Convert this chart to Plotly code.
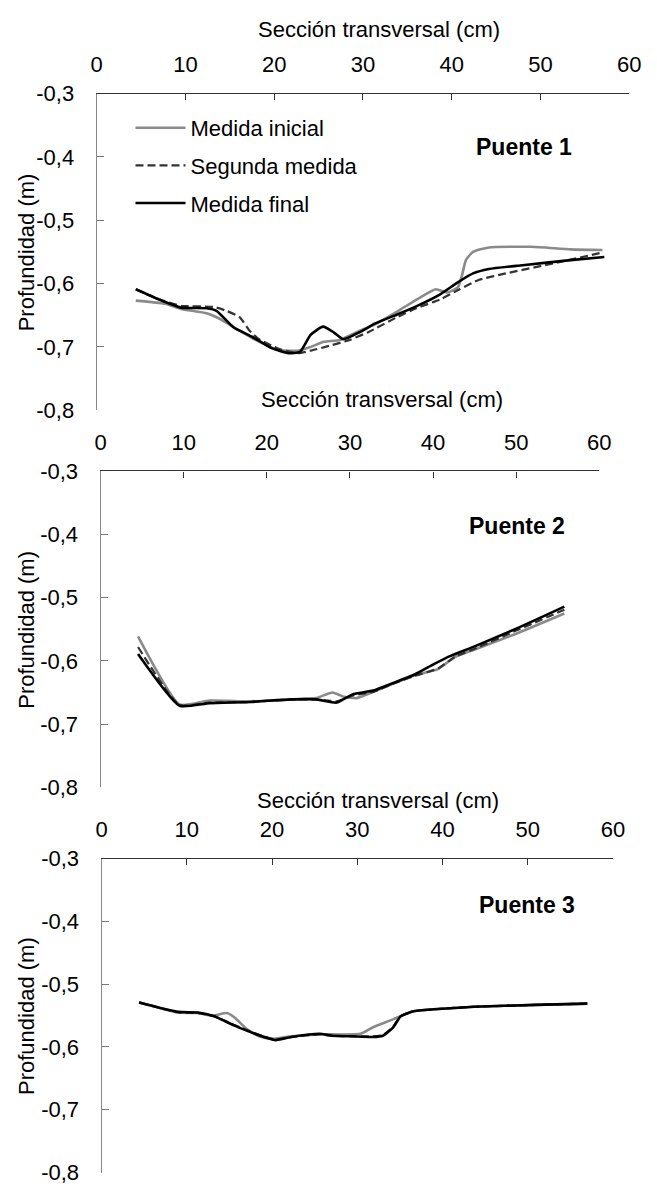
import plotly.graph_objects as go

W, H = 657, 1197

# ---------------- data ----------------
series_names = ["Medida inicial", "Segunda medida", "Medida final"]
panel_labels = ["Puente 1", "Puente 2", "Puente 3"]
x_title = "Sección transversal (cm)"
y_title = "Profundidad (m)"
y_tickvals = [-0.3, -0.4, -0.5, -0.6, -0.7, -0.8]
y_ticktext = ["-0,3", "-0,4", "-0,5", "-0,6", "-0,7", "-0,8"]
x_tickvals = [0, 10, 20, 30, 40, 50, 60]

# Puente 1
p1_ini_x = [4.4, 7.7, 9.5, 12.4, 13.9, 15.7, 17.9, 20.5, 22.7, 24.1, 25.6, 27.4, 29.6, 31.4, 34.0, 36.1, 38.2, 39.5, 40.7, 41.2, 41.6, 42.4, 44.2, 49.0, 53.4, 57.0]
p1_ini_y = [-0.627, -0.632, -0.640, -0.647, -0.656, -0.671, -0.689, -0.705, -0.706, -0.700, -0.692, -0.689, -0.675, -0.664, -0.643, -0.625, -0.609, -0.614, -0.606, -0.585, -0.563, -0.550, -0.543, -0.542, -0.546, -0.547]
p1_seg_x = [4.4, 7.0, 9.5, 13.2, 14.6, 16.1, 17.2, 18.2, 20.5, 22.7, 24.1, 26.3, 28.5, 30.7, 34.0, 36.0, 38.7, 40.9, 43.1, 46.1, 51.5, 57.0]
p1_seg_y = [-0.609, -0.625, -0.635, -0.637, -0.643, -0.653, -0.674, -0.687, -0.703, -0.710, -0.706, -0.698, -0.689, -0.676, -0.652, -0.639, -0.625, -0.609, -0.594, -0.584, -0.568, -0.551]
p1_fin_x = [4.4, 7.0, 9.5, 12.4, 13.5, 15.4, 17.5, 19.7, 21.6, 22.9, 24.1, 25.5, 26.7, 27.8, 29.6, 31.4, 34.0, 36.0, 38.7, 40.6, 42.4, 44.2, 48.0, 53.4, 57.2]
p1_fin_y = [-0.609, -0.625, -0.638, -0.639, -0.643, -0.669, -0.684, -0.702, -0.710, -0.708, -0.681, -0.668, -0.677, -0.688, -0.677, -0.663, -0.648, -0.636, -0.617, -0.599, -0.584, -0.577, -0.571, -0.563, -0.558]

# Puente 2
p2_ini_x = [4.5, 9.5, 13.1, 18.1, 23.0, 25.9, 27.9, 29.3, 30.8, 32.8, 35.2, 37.7, 40.6, 42.6, 45.0, 50.0, 55.8]
p2_ini_y = [-0.561, -0.669, -0.663, -0.664, -0.661, -0.659, -0.650, -0.657, -0.659, -0.649, -0.636, -0.623, -0.613, -0.594, -0.582, -0.557, -0.525]
p2_seg_x = [4.5, 9.5, 13.1, 18.1, 23.0, 25.9, 28.4, 30.3, 32.8, 35.2, 37.7, 40.6, 42.6, 45.5, 50.0, 55.8]
p2_seg_y = [-0.578, -0.670, -0.666, -0.665, -0.661, -0.661, -0.664, -0.655, -0.649, -0.636, -0.624, -0.612, -0.594, -0.578, -0.552, -0.519]
p2_fin_x = [4.5, 9.5, 13.1, 18.1, 23.0, 25.9, 28.4, 30.3, 32.8, 35.2, 37.7, 40.1, 42.1, 45.0, 50.0, 55.8]
p2_fin_y = [-0.589, -0.671, -0.667, -0.665, -0.661, -0.661, -0.666, -0.653, -0.647, -0.635, -0.622, -0.605, -0.592, -0.577, -0.549, -0.514]

# Puente 3
p3_ini_x = [4.4, 9.0, 11.3, 13.0, 14.7, 15.6, 17.0, 18.5, 19.9, 22.3, 25.6, 30.4, 31.8, 34.2, 35.6, 36.6, 39.0, 43.7, 50.9, 57.0]
p3_ini_y = [-0.529, -0.545, -0.546, -0.550, -0.546, -0.553, -0.571, -0.583, -0.587, -0.583, -0.580, -0.579, -0.569, -0.556, -0.548, -0.543, -0.540, -0.536, -0.533, -0.531]
p3_seg_x = [4.4, 9.0, 11.3, 13.2, 15.6, 18.0, 20.4, 22.3, 25.6, 27.0, 29.4, 31.8, 33.0, 34.2, 35.1, 36.6, 39.0, 43.7, 50.9, 57.0]
p3_seg_y = [-0.529, -0.545, -0.546, -0.551, -0.565, -0.578, -0.588, -0.584, -0.580, -0.582, -0.583, -0.583, -0.581, -0.568, -0.551, -0.543, -0.540, -0.536, -0.533, -0.531]
p3_fin_x = [4.4, 9.0, 11.3, 13.2, 15.6, 18.0, 20.4, 22.3, 25.6, 27.0, 29.4, 31.8, 33.0, 34.2, 35.1, 36.6, 39.0, 43.7, 50.9, 57.0]
p3_fin_y = [-0.529, -0.544, -0.545, -0.551, -0.566, -0.579, -0.589, -0.584, -0.579, -0.582, -0.583, -0.584, -0.582, -0.569, -0.551, -0.543, -0.540, -0.536, -0.533, -0.531]

panels = [
    [(p1_ini_x, p1_ini_y), (p1_seg_x, p1_seg_y), (p1_fin_x, p1_fin_y)],
    [(p2_ini_x, p2_ini_y), (p2_seg_x, p2_seg_y), (p2_fin_x, p2_fin_y)],
    [(p3_ini_x, p3_ini_y), (p3_seg_x, p3_seg_y), (p3_fin_x, p3_fin_y)],
]

# ---------------- layout geometry (pixels) ----------------
# (left, right, top, bottom) of each plot area
boxes = [(93.3, 640.7, 83.3, 406.7), (97.3, 610.0, 469.3, 791.7), (98.3, 624.0, 864.7, 1185.3)]
xtitle_pos = [(384, 18), (387, 396), (382, 805)]
puente_pos = [(533, 138), (525, 525), (536, 912)]

styles = [
    dict(color="#8a8a8a", width=2.6, dash="solid"),
    dict(color="#333333", width=2.2, dash="8px,4px"),
    dict(color="#000000", width=2.6, dash="solid"),
]

FONT = "Liberation Sans, Arial, sans-serif"
FS = 22
fig = go.Figure()
annotations = []

def px(x):
    return x / W

def py(y):
    return 1 - y / H

for i, (box, data) in enumerate(zip(boxes, panels)):
    l, r, t, b = box
    xa = "xaxis" if i == 0 else f"xaxis{i+1}"
    ya = "yaxis" if i == 0 else f"yaxis{i+1}"
    xref = "x" if i == 0 else f"x{i+1}"
    yref = "y" if i == 0 else f"y{i+1}"
    for j, (xs, ys) in enumerate(data):
        fig.add_trace(go.Scatter(
            x=xs, y=ys, mode="lines", name=series_names[j],
            line=dict(color=styles[j]["color"], width=styles[j]["width"],
                      dash=styles[j]["dash"], shape="spline", smoothing=0.5),
            xaxis=xref, yaxis=yref, showlegend=(i == 0),
            legendgroup=series_names[j],
        ))
    fig.layout[xa] = dict(
        domain=[px(l), px(r)], range=[0, 60], side="top", anchor=yref,
        tickvals=x_tickvals, ticks="inside", ticklen=6, tickcolor="#333333",
        showline=True, linecolor="#333333", linewidth=1.3, showgrid=False,
        zeroline=False, tickfont=dict(family=FONT, size=FS, color="#000000"),
        ticklabelstandoff=12,
    )
    fig.layout[ya] = dict(
        domain=[py(b), py(t)], range=[-0.8, -0.3], anchor=xref,
        tickvals=y_tickvals, ticktext=y_ticktext, ticks="inside", ticklen=7,
        tickcolor="#777777", showline=True, linecolor="#888888", linewidth=1.3,
        showgrid=False, zeroline=False,
        tickfont=dict(family=FONT, size=FS, color="#000000"),
        ticklabelstandoff=17,
    )
    annotations.append(dict(
        text=x_title, x=px(xtitle_pos[i][0]), y=py(xtitle_pos[i][1]),
        xref="paper", yref="paper", showarrow=False, xanchor="center", yanchor="middle",
        font=dict(family=FONT, size=FS, color="#000000"),
    ))
    annotations.append(dict(
        text=y_title, x=px(21), y=py((t + b) / 2), textangle=-90,
        xref="paper", yref="paper", showarrow=False, xanchor="center", yanchor="middle",
        font=dict(family=FONT, size=FS, color="#000000"),
    ))
    annotations.append(dict(
        text="<b>" + panel_labels[i] + "</b>", x=px(puente_pos[i][0]), y=py(puente_pos[i][1]),
        xref="paper", yref="paper", showarrow=False, xanchor="center", yanchor="middle",
        font=dict(family=FONT, size=23, color="#000000"),
    ))

fig.update_layout(
    width=W, height=H, margin=dict(l=0, r=0, t=0, b=0),
    paper_bgcolor="white", plot_bgcolor="white",
    annotations=annotations,
    legend=dict(x=px(128), y=py(97), xanchor="left", yanchor="top",
                font=dict(family=FONT, size=FS, color="#000000"),
                bgcolor="rgba(0,0,0,0)", traceorder="grouped", tracegroupgap=6,
                itemwidth=50),
)

fig.write_html("out.html")
